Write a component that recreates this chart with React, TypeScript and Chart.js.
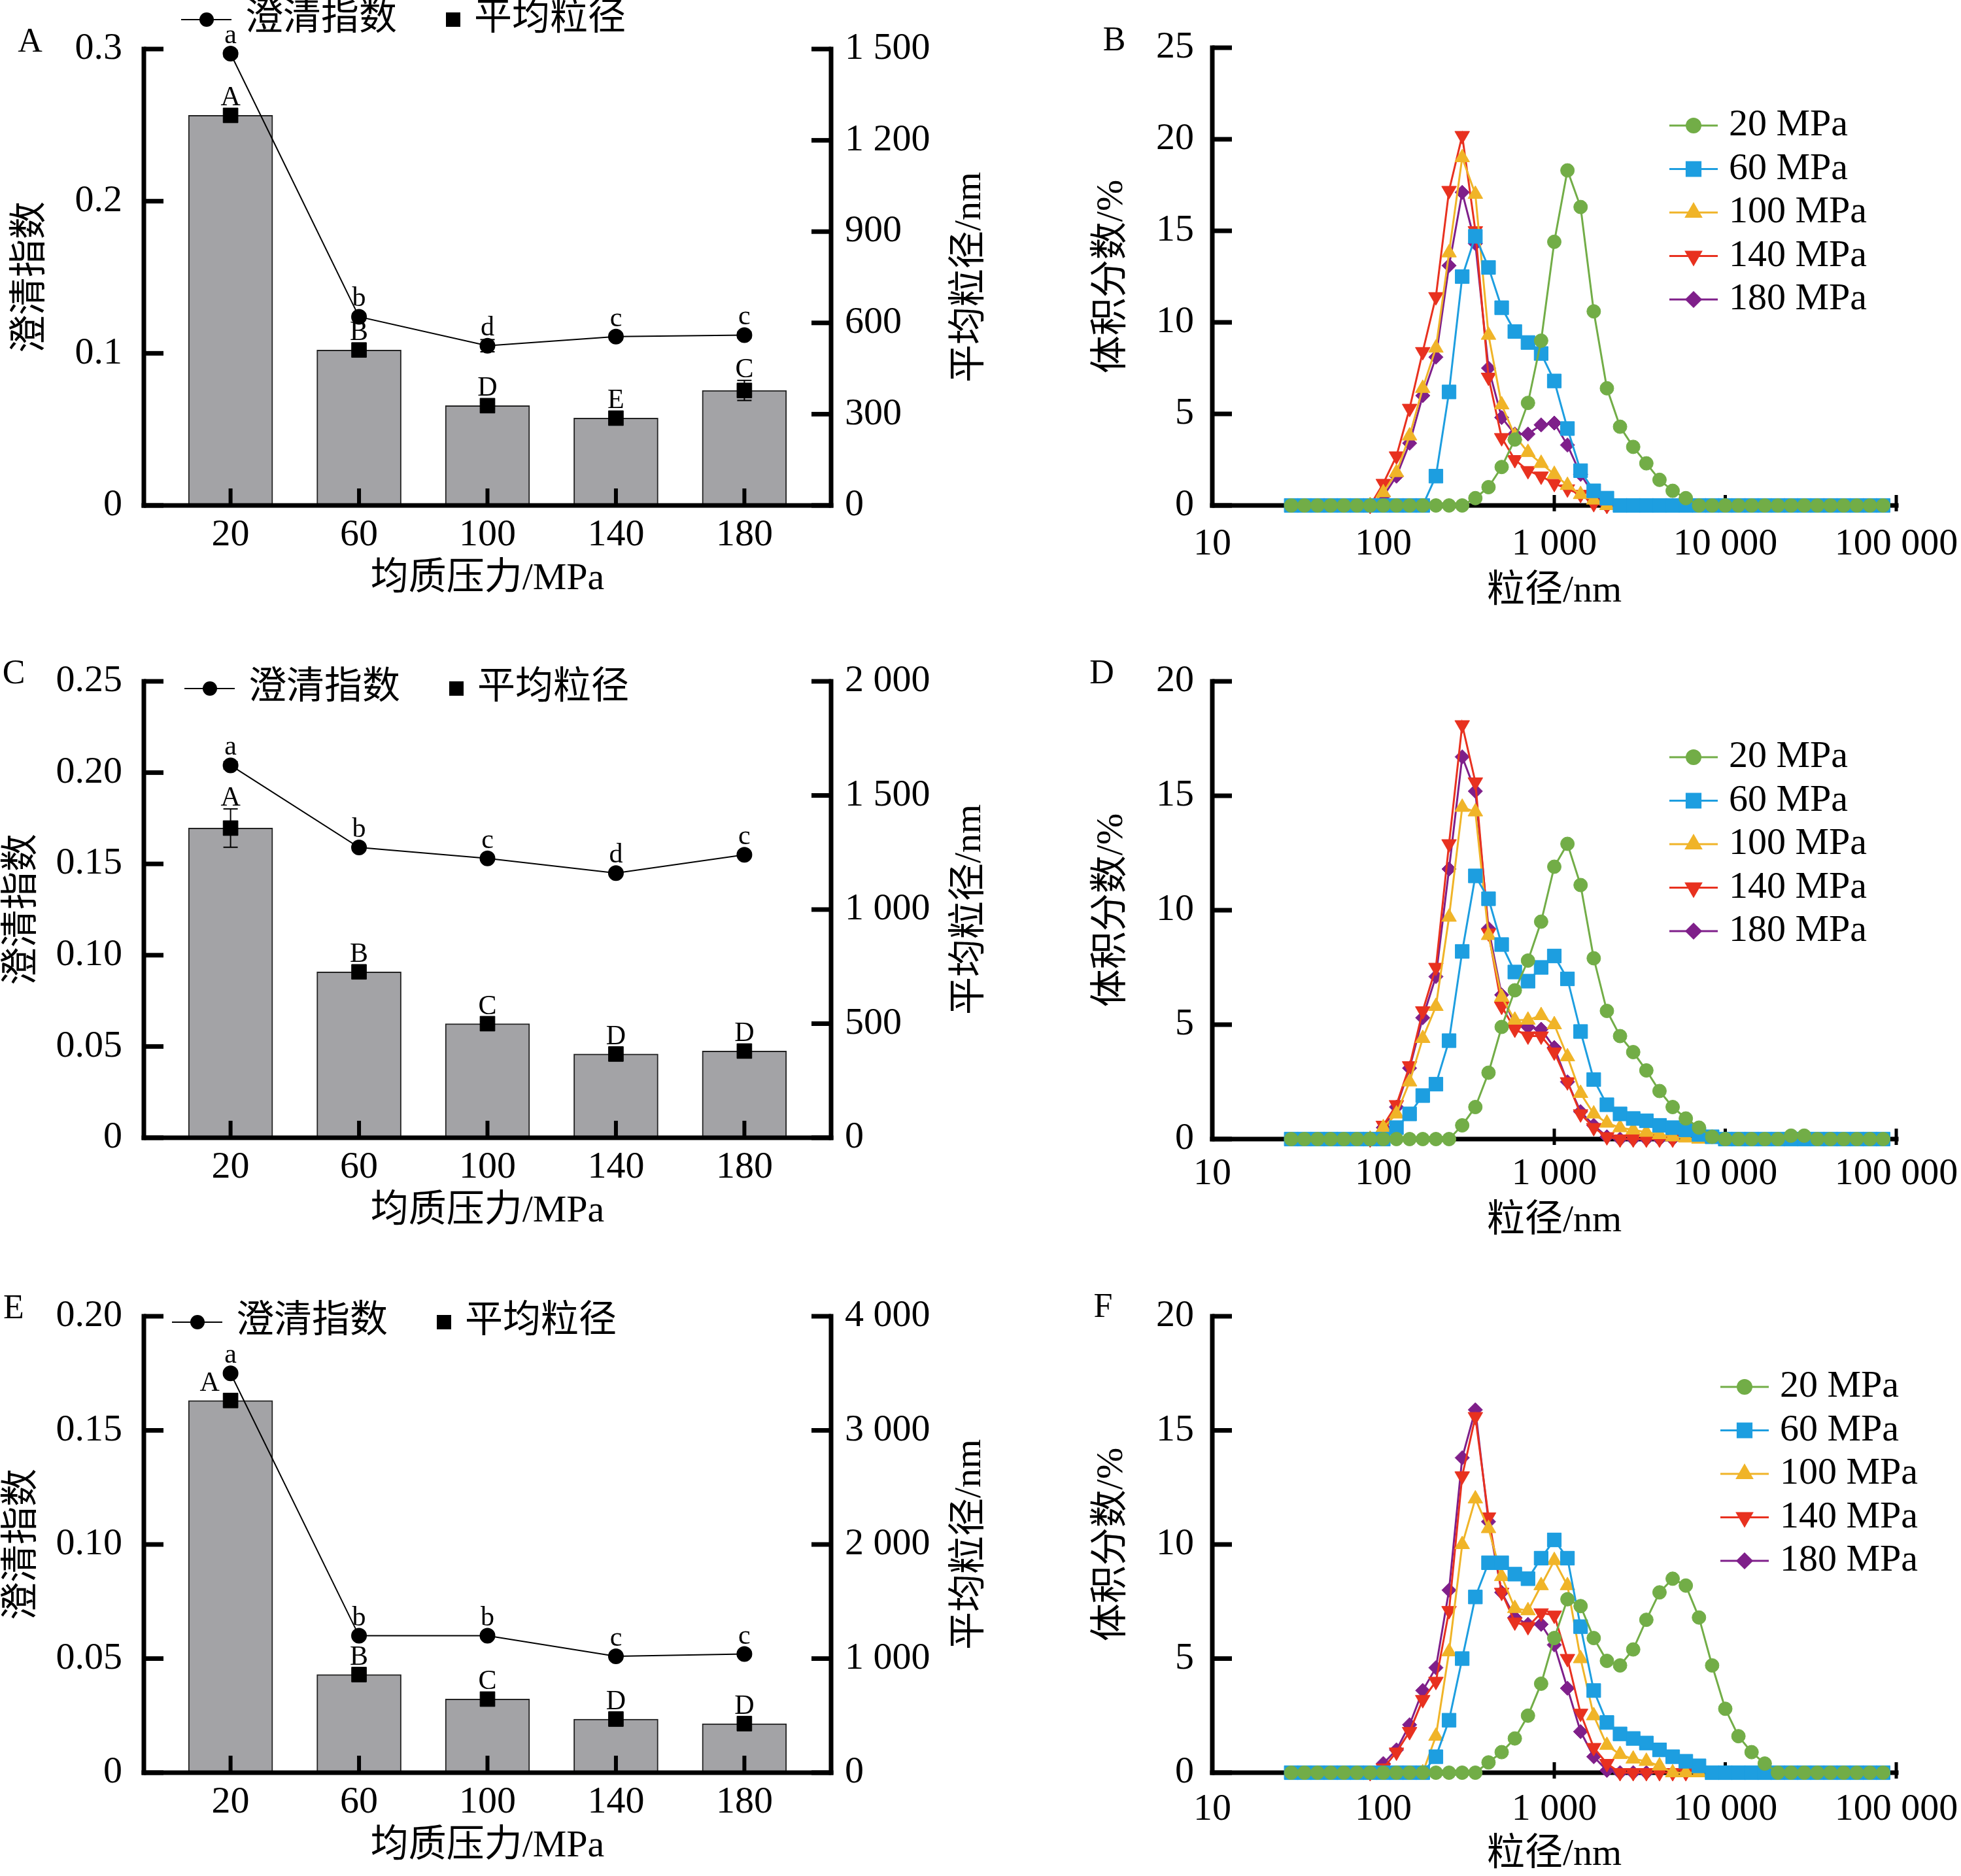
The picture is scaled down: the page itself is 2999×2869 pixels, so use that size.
import { useEffect, useRef } from 'react';
import { Chart, registerables } from 'chart.js';
import { drawPoint } from 'chart.js/helpers';

Chart.register(...registerables);

const FONT = '"Liberation Serif", "Noto Sans CJK SC", serif';

// homogenisation pressure (MPa)
const pressures = [20, 60, 100, 140, 180];
const pressureLabels = ['20', '60', '100', '140', '180'];

// panel A
const clarityA = [0.297, 0.124, 0.105, 0.111, 0.112];
const clarityErrA = [0.002, 0.002, 0.004, 0.002, 0.002];
const clarityMarksA = ['a', 'b', 'd', 'c', 'c'];
const sizeA = [1282, 511, 328, 287, 378];
const sizeErrA = [10, 10, 10, 8, 33];
const sizeMarksA = ['A', 'B', 'D', 'E', 'C'];
const leftTicksA = [0, 0.1, 0.2, 0.3];
const leftLabelsA = ['0', '0.1', '0.2', '0.3'];
const rightTicksA = [0, 300, 600, 900, 1200, 1500];
const rightLabelsA = ['0', '300', '600', '900', '1 200', '1 500'];

// panel C
const clarityC = [0.204, 0.159, 0.153, 0.145, 0.155];
const clarityErrC = [0.002, 0.001, 0.001, 0.001, 0.001];
const clarityMarksC = ['a', 'b', 'c', 'd', 'c'];
const sizeC = [1357, 727, 500, 367, 380];
const sizeErrC = [84, 10, 10, 10, 10];
const sizeMarksC = ['A', 'B', 'C', 'D', 'D'];
const leftTicksC = [0, 0.05, 0.1, 0.15, 0.2, 0.25];
const leftLabelsC = ['0', '0.05', '0.10', '0.15', '0.20', '0.25'];
const rightTicksC = [0, 500, 1000, 1500, 2000];
const rightLabelsC = ['0', '500', '1 000', '1 500', '2 000'];

// panel E
const clarityE = [0.175, 0.06, 0.06, 0.051, 0.052];
const clarityErrE = [0.001, 0.001, 0.001, 0.001, 0.001];
const clarityMarksE = ['a', 'b', 'b', 'c', 'c'];
const sizeE = [3262, 860, 645, 470, 430];
const sizeErrE = [30, 30, 30, 30, 30];
const sizeMarksE = ['A', 'B', 'C', 'D', 'D'];
const leftTicksE = [0, 0.05, 0.1, 0.15, 0.2];
const leftLabelsE = ['0', '0.05', '0.10', '0.15', '0.20'];
const rightTicksE = [0, 1000, 2000, 3000, 4000];
const rightLabelsE = ['0', '1 000', '2 000', '3 000', '4 000'];

// particle size distributions (nm, volume %)
const sizeBins = [
  28.94, 34.55, 41.25, 49.24, 58.78, 70.17, 83.77, 100, 119.4, 142.5, 170.1, 203.1,
  242.4, 289.4, 345.5, 412.5, 492.4, 587.8, 701.7, 837.7, 1000, 1194, 1425, 1701,
  2031, 2424, 2894, 3455, 4125, 4924, 5878, 7017, 8377, 10000, 11938, 14251, 17013,
  20309, 24245, 28943, 34551, 41246, 49239, 58780, 70170, 83768,
];
const sizeTicks = [10, 100, 1000, 10000, 100000];
const sizeTickLabels = ['10', '100', '1 000', '10 000', '100 000'];
const seriesLabels = ['20 MPa', '60 MPa', '100 MPa', '140 MPa', '180 MPa'];

const _ = null;
const B20 = [0, 0, 0, 0, 0, 0, 0, 0, 0, 0, 0, 0, 0, 0, 0.4, 1.0, 2.1, 3.6, 5.6, 9.0, 14.4, 18.3, 16.3, 10.6, 6.4, 4.3, 3.2, 2.3, 1.4, 0.8, 0.4, 0, 0, 0, 0, 0, 0, 0, 0, 0, 0, 0, 0, 0, 0, 0];
const B60 = [0, 0, 0, 0, 0, 0, 0, 0, 0, 0, 0, 1.6, 6.2, 12.5, 14.7, 13.0, 10.8, 9.5, 8.9, 8.3, 6.8, 4.2, 1.9, 0.8, 0.4, 0, 0, 0, 0, 0, 0, 0, 0, 0, 0, 0, 0, 0, 0, 0, 0, 0, 0, 0, 0, 0];
const B100 = [_, _, _, _, _, _, 0, 0.7, 1.8, 3.8, 6.4, 8.6, 13.8, 19.0, 17.0, 9.3, 5.5, 3.8, 2.9, 2.3, 1.7, 1.1, 0.6, 0.3, 0, _, _, _, _, _, _, _, _, _, _, _, _, _, _, _, _, _, _, _, _, _];
const B140 = [_, _, _, _, _, _, 0, 1.2, 2.7, 5.3, 8.4, 11.4, 17.2, 20.2, 15.0, 7.0, 3.7, 2.5, 1.9, 1.6, 1.2, 0.9, 0.6, 0.1, 0, _, _, _, _, _, _, _, _, _, _, _, _, _, _, _, _, _, _, _, _, _];
const B180 = [_, _, _, _, _, _, 0, 0.5, 1.6, 3.4, 6.0, 8.1, 13.1, 17.1, 14.3, 7.5, 4.8, 3.9, 3.9, 4.4, 4.5, 3.3, 1.7, 0.6, 0, _, _, _, _, _, _, _, _, _, _, _, _, _, _, _, _, _, _, _, _, _];

const D20 = [0, 0, 0, 0, 0, 0, 0, 0, 0, 0, 0, 0, 0, 0.6, 1.4, 2.9, 4.9, 6.5, 7.8, 9.5, 11.9, 12.9, 11.1, 7.9, 5.6, 4.5, 3.8, 3.0, 2.1, 1.4, 0.9, 0.5, 0.1, 0, 0, 0, 0, 0, 0.15, 0.15, 0, 0, 0, 0, 0, 0];
const D60 = [0, 0, 0, 0, 0, 0, 0, 0, 0.5, 1.1, 1.9, 2.4, 4.3, 8.2, 11.5, 10.5, 8.5, 7.3, 6.9, 7.5, 8.0, 7.0, 4.7, 2.6, 1.5, 1.1, 0.9, 0.8, 0.6, 0.5, 0.4, 0.2, 0.1, 0, 0, 0, 0, 0, 0, 0, 0, 0, 0, 0, 0, 0];
const D100 = [_, _, _, _, _, _, 0, 0.5, 1.1, 2.5, 4.4, 5.8, 9.7, 14.5, 14.3, 8.9, 6.2, 5.2, 5.2, 5.4, 5.0, 3.6, 2.0, 1.1, 0.7, 0.5, 0.4, 0.3, 0.2, 0.1, 0.05, 0, _, _, _, _, _, _, _, _, _, _, _, _, _, _];
const D140 = [_, _, _, _, _, _, 0, 0.6, 1.5, 3.2, 5.6, 7.5, 12.9, 18.1, 15.6, 9.0, 5.8, 4.8, 4.5, 4.5, 3.8, 2.5, 1.1, 0.5, 0.1, 0, 0, 0, 0, 0, _, _, _, _, _, _, _, _, _, _, _, _, _, _, _, _];
const D180 = [_, _, _, _, _, _, 0, 0.5, 1.4, 3.1, 5.3, 7.1, 11.8, 16.7, 15.2, 9.2, 6.3, 5.0, 4.9, 4.8, 4.0, 2.5, 1.2, 0.6, 0.1, 0, 0, 0, 0, 0, _, _, _, _, _, _, _, _, _, _, _, _, _, _, _, _];

const F20 = [0, 0, 0, 0, 0, 0, 0, 0, 0, 0, 0, 0, 0, 0, 0, 0.45, 0.9, 1.5, 2.5, 3.9, 5.9, 7.6, 7.3, 5.9, 4.9, 4.7, 5.4, 6.7, 7.9, 8.5, 8.2, 6.8, 4.7, 2.8, 1.6, 0.9, 0.4, 0, 0, 0, 0, 0, 0, 0, 0, 0];
const F60 = [0, 0, 0, 0, 0, 0, 0, 0, 0, 0, 0, 0.7, 2.3, 5.0, 7.7, 9.2, 9.2, 8.7, 8.5, 9.4, 10.2, 9.4, 6.4, 3.6, 2.2, 1.7, 1.5, 1.3, 1.0, 0.7, 0.5, 0.3, 0, 0, 0, 0, 0, 0, 0, 0, 0, 0, 0, 0, 0, 0];
const F100 = [_, _, _, _, _, _, _, _, _, _, 0, 1.6, 5.3, 10.0, 12.0, 10.7, 8.6, 7.2, 7.1, 8.2, 9.3, 8.2, 5.0, 2.5, 1.2, 0.8, 0.6, 0.5, 0.3, 0, 0, 0, _, _, _, _, _, _, _, _, _, _, _, _, _, _];
const F140 = [_, _, _, _, _, _, 0, 0.2, 0.9, 1.8, 3.2, 4.0, 7.1, 13.0, 15.6, 11.2, 7.9, 6.6, 6.4, 7.0, 6.9, 5.0, 2.6, 1.1, 0.4, 0, 0, 0, 0, 0, 0, _, _, _, _, _, _, _, _, _, _, _, _, _, _, _];
const F180 = [_, _, _, _, _, _, 0, 0.4, 1.0, 2.1, 3.6, 4.6, 8.0, 13.8, 15.9, 11.0, 7.9, 6.8, 6.5, 6.5, 5.6, 3.7, 1.8, 0.7, 0.1, 0, 0, 0, _, _, _, _, _, _, _, _, _, _, _, _, _, _, _, _, _, _];

const seriesStyles = [
  { color: '#72ad47', pointStyle: 'circle', radius: 10.5, rotation: 0 },
  { color: '#1d9ee0', pointStyle: 'rect', radius: 15, rotation: 0 },
  { color: '#f0b428', pointStyle: 'triangle', radius: 13, rotation: 0 },
  { color: '#e8311f', pointStyle: 'triangle', radius: 13, rotation: 180 },
  { color: '#7f1f8a', pointStyle: 'rectRot', radius: 11, rotation: 0 },
];

type Box = [number, number, number, number];

function line(ctx: CanvasRenderingContext2D, x1: number, y1: number, x2: number, y2: number) {
  ctx.beginPath();
  ctx.moveTo(x1, y1);
  ctx.lineTo(x2, y2);
  ctx.stroke();
}

function text(ctx: CanvasRenderingContext2D, s: string, x: number, y: number, size: number, align: CanvasTextAlign = 'center', rot = 0) {
  ctx.save();
  ctx.font = `${size}px ${FONT}`;
  ctx.fillStyle = '#000';
  ctx.textAlign = align;
  ctx.textBaseline = 'middle';
  ctx.translate(x, y);
  if (rot) ctx.rotate(rot);
  ctx.fillText(s, 0, 0);
  ctx.restore();
}

const tickFont = { family: 'Liberation Serif', size: 58 };

// keep the plot area exactly where the box says, whatever the edge labels need
const noEdgePadding = (s: any) => {
  s.paddingLeft = 0;
  s.paddingRight = 0;
  s.paddingTop = 0;
  s.paddingBottom = 0;
};

interface BarSpec {
  box: Box; // canvas left, top, width, height
  area: Box; // plot left, top, right, bottom
  letter: string;
  letterAt: [number, number];
  leftTitleX: number;
  legendAt: [number, number];
  firstCapShift: number;
  clarity: number[];
  clarityErr: number[];
  clarityMarks: string[];
  size: number[];
  sizeErr: number[];
  sizeMarks: string[];
  leftTicks: number[];
  leftLabels: string[];
  rightTicks: number[];
  rightLabels: string[];
}

function BarPanel({ spec }: { spec: BarSpec }) {
  const ref = useRef<HTMLCanvasElement>(null);

  useEffect(() => {
    if (!ref.current) return;
    const [bx, by, bw, bh] = spec.box;
    const [al, at, ar, ab] = spec.area;

    const decor = {
      id: 'barDecor',
      afterDatasetsDraw(chart: any) {
        const { ctx, chartArea: a, scales } = chart;
        const xs = scales.x, yl = scales.y, yr = scales.y1;
        ctx.save();
        ctx.strokeStyle = '#000';
        ctx.lineWidth = 2;
        const errBar = (x: number, y0: number, y1: number) => {
          line(ctx, x, y0, x, y1);
          line(ctx, x - 11, y0, x + 11, y0);
          line(ctx, x - 11, y1, x + 11, y1);
        };
        pressures.forEach((p, i) => {
          const x = xs.getPixelForValue(p);
          errBar(x, yr.getPixelForValue(spec.size[i] - spec.sizeErr[i]), yr.getPixelForValue(spec.size[i] + spec.sizeErr[i]));
          errBar(x, yl.getPixelForValue(spec.clarity[i] - spec.clarityErr[i]), yl.getPixelForValue(spec.clarity[i] + spec.clarityErr[i]));
        });

        ctx.lineWidth = 7;
        ctx.lineCap = 'square';
        line(ctx, a.left, a.top, a.left, a.bottom);
        line(ctx, a.right, a.top, a.right, a.bottom);
        line(ctx, a.left, a.bottom, a.right, a.bottom);
        ctx.lineCap = 'butt';
        spec.leftTicks.forEach((v) => {
          const y = yl.getPixelForValue(v);
          line(ctx, a.left, y, a.left + 30, y);
        });
        spec.rightTicks.forEach((v) => {
          const y = yr.getPixelForValue(v);
          line(ctx, a.right - 30, y, a.right, y);
        });
        ctx.lineWidth = 6;
        pressures.forEach((p) => {
          const x = xs.getPixelForValue(p);
          line(ctx, x, a.bottom - 26, x, a.bottom);
        });

        ctx.fillStyle = '#000';
        ctx.font = `42px ${FONT}`;
        ctx.textAlign = 'center';
        ctx.textBaseline = 'alphabetic';
        pressures.forEach((p, i) => {
          const x = xs.getPixelForValue(p);
          const yc = yl.getPixelForValue(spec.clarity[i]);
          const yce = yl.getPixelForValue(spec.clarity[i] + spec.clarityErr[i]);
          ctx.fillText(spec.clarityMarks[i], x, Math.min(yc - 16, yce - 6));
          const ys = yr.getPixelForValue(spec.size[i]);
          const yse = yr.getPixelForValue(spec.size[i] + spec.sizeErr[i]);
          ctx.fillText(spec.sizeMarks[i], x + (i === 0 ? spec.firstCapShift : 0), Math.min(ys - 15, yse - 5));
        });
        ctx.restore();
      },
      afterDraw(chart: any) {
        const { ctx, chartArea: a } = chart;
        const cy = (a.top + a.bottom) / 2;
        text(ctx, '澄清指数', spec.leftTitleX - bx, cy, 58, 'center', -Math.PI / 2);
        text(ctx, '平均粒径/nm', a.right + 213, cy, 58, 'center', -Math.PI / 2);
        text(ctx, '均质压力/MPa', (a.left + a.right) / 2, a.bottom + 113, 58);
        text(ctx, spec.letter, spec.letterAt[0] - bx, spec.letterAt[1] - by, 52);

        // legend
        const lx = a.left + spec.legendAt[0];
        const ly = a.top + spec.legendAt[1];
        ctx.save();
        ctx.strokeStyle = '#000';
        ctx.fillStyle = '#000';
        ctx.lineWidth = 2;
        line(ctx, lx, ly, lx + 77, ly);
        ctx.beginPath();
        ctx.arc(lx + 39, ly, 11, 0, Math.PI * 2);
        ctx.fill();
        ctx.fillRect(lx + 416 - 11, ly - 11, 22, 22);
        ctx.restore();
        text(ctx, '澄清指数', lx + 98, ly, 58, 'left');
        text(ctx, '平均粒径', lx + 448, ly, 58, 'left');
      },
    };

    const chart = new Chart(ref.current, {
      type: 'bar',
      data: {
        datasets: [
          {
            type: 'line',
            data: pressures.map((p, i) => ({ x: p, y: spec.clarity[i] })),
            yAxisID: 'y',
            borderColor: '#000',
            borderWidth: 2,
            pointRadius: 11,
            pointBackgroundColor: '#000',
            pointBorderColor: '#000',
            clip: false,
          },
          {
            type: 'line',
            data: pressures.map((p, i) => ({ x: p, y: spec.size[i] })),
            yAxisID: 'y1',
            showLine: false,
            pointStyle: 'rect',
            pointRadius: 16,
            pointBackgroundColor: '#000',
            pointBorderColor: '#000',
            clip: false,
          },
          {
            type: 'bar',
            data: pressures.map((p, i) => ({ x: p, y: spec.size[i] })),
            yAxisID: 'y1',
            backgroundColor: '#a3a3a6',
            borderColor: '#222',
            borderWidth: 2,
            barThickness: 129,
          },
        ] as any,
      },
      options: {
        animation: false,
        responsive: false,
        devicePixelRatio: 1,
        layout: { padding: { top: at - by, left: 0, right: 0, bottom: 0 } },
        plugins: { legend: { display: false }, tooltip: { enabled: false } },
        scales: {
          x: {
            type: 'linear',
            min: -7,
            max: 207,
            offset: false,
            grid: { display: false, drawTicks: false },
            border: { display: false },
            afterBuildTicks: (s: any) => { s.ticks = pressures.map((v) => ({ value: v })); },
            afterFit: (s: any) => { s.height = by + bh - ab; noEdgePadding(s); },
            ticks: {
              autoSkip: false,
              maxRotation: 0,
              padding: 11,
              color: '#000',
              font: tickFont,
              callback: (_v: any, i: number) => pressureLabels[i],
            },
          },
          y: {
            position: 'left',
            min: 0,
            max: spec.leftTicks[spec.leftTicks.length - 1],
            grid: { display: false, drawTicks: false },
            border: { display: false },
            afterBuildTicks: (s: any) => { s.ticks = spec.leftTicks.map((v) => ({ value: v })); },
            afterFit: (s: any) => { s.width = al - bx; noEdgePadding(s); },
            ticks: { padding: 33, color: '#000', font: tickFont, callback: (_v: any, i: number) => spec.leftLabels[i] },
          },
          y1: {
            position: 'right',
            min: 0,
            max: spec.rightTicks[spec.rightTicks.length - 1],
            grid: { display: false, drawTicks: false },
            border: { display: false },
            afterBuildTicks: (s: any) => { s.ticks = spec.rightTicks.map((v) => ({ value: v })); },
            afterFit: (s: any) => { s.width = bx + bw - ar; noEdgePadding(s); },
            ticks: { padding: 21, color: '#000', font: tickFont, callback: (_v: any, i: number) => spec.rightLabels[i] },
          },
        },
      } as any,
      plugins: [decor],
    });

    return () => chart.destroy();
  }, [spec]);

  const [bx, by, bw, bh] = spec.box;
  return <canvas ref={ref} width={bw} height={bh} style={{ position: 'absolute', left: bx, top: by, width: bw, height: bh }} />;
}

interface DistSpec {
  box: Box;
  area: Box;
  letter: string;
  letterAt: [number, number];
  legendAt: [number, number];
  xLabelPad: number;
  xTitleDy: number;
  yTicks: number[];
  series: (number | null)[][];
}

function DistPanel({ spec }: { spec: DistSpec }) {
  const ref = useRef<HTMLCanvasElement>(null);

  useEffect(() => {
    if (!ref.current) return;
    const [bx, by, bw, bh] = spec.box;
    const [al, at, ar, ab] = spec.area;

    const decor = {
      id: 'distDecor',
      beforeDatasetsDraw(chart: any) {
        const { ctx, chartArea: a, scales } = chart;
        ctx.save();
        ctx.strokeStyle = '#000';
        ctx.lineWidth = 7;
        ctx.lineCap = 'square';
        line(ctx, a.left, a.top, a.left, a.bottom);
        line(ctx, a.left, a.bottom, a.right, a.bottom);
        ctx.lineCap = 'butt';
        spec.yTicks.forEach((v) => {
          const y = scales.y.getPixelForValue(v);
          line(ctx, a.left, y, a.left + 30, y);
        });
        ctx.lineWidth = 5;
        sizeTicks.slice(1).forEach((v) => {
          const x = scales.x.getPixelForValue(v);
          line(ctx, x, a.bottom - 16, x, a.bottom + 9);
        });
        ctx.restore();
      },
      afterDraw(chart: any) {
        const { ctx, chartArea: a } = chart;
        text(ctx, '体积分数/%', a.left - 153, (a.top + a.bottom) / 2, 58, 'center', -Math.PI / 2);
        text(ctx, '粒径/nm', (a.left + a.right) / 2, a.bottom + spec.xTitleDy, 58);
        text(ctx, spec.letter, spec.letterAt[0] - bx, spec.letterAt[1] - by, 52);
        const lx = a.left + spec.legendAt[0];
        seriesStyles.forEach((st, i) => {
          const y = a.top + spec.legendAt[1] + i * 66.5;
          ctx.save();
          ctx.strokeStyle = st.color;
          ctx.fillStyle = st.color;
          ctx.lineWidth = 3;
          line(ctx, lx, y, lx + 74, y);
          drawPoint(ctx, { pointStyle: st.pointStyle as any, rotation: st.rotation, radius: st.radius, borderWidth: 1 }, lx + 37, y);
          ctx.restore();
          text(ctx, seriesLabels[i], lx + 91, y, 58, 'left');
        });
      },
    };

    const chart = new Chart(ref.current, {
      type: 'line',
      data: {
        datasets: spec.series.map((vals, i) => ({
          label: seriesLabels[i],
          data: vals.map((v, k) => ({ x: sizeBins[k], y: v })),
          borderColor: seriesStyles[i].color,
          backgroundColor: seriesStyles[i].color,
          pointBackgroundColor: seriesStyles[i].color,
          pointBorderColor: seriesStyles[i].color,
          borderWidth: 3,
          pointStyle: seriesStyles[i].pointStyle,
          pointRotation: seriesStyles[i].rotation,
          pointRadius: seriesStyles[i].radius,
          pointBorderWidth: 1,
          tension: 0,
          clip: false,
        })) as any,
      },
      options: {
        animation: false,
        responsive: false,
        devicePixelRatio: 1,
        layout: { padding: { top: at - by, left: 0, right: bx + bw - ar, bottom: 0 } },
        plugins: { legend: { display: false }, tooltip: { enabled: false } },
        scales: {
          x: {
            type: 'logarithmic',
            min: 10,
            max: 100000,
            grid: { display: false, drawTicks: false },
            border: { display: false },
            afterBuildTicks: (s: any) => { s.ticks = sizeTicks.map((v) => ({ value: v })); },
            afterFit: (s: any) => { s.height = by + bh - ab; noEdgePadding(s); },
            ticks: {
              autoSkip: false,
              maxRotation: 0,
              padding: spec.xLabelPad,
              color: '#000',
              font: tickFont,
              callback: (_v: any, i: number) => sizeTickLabels[i],
            },
          },
          y: {
            min: 0,
            max: spec.yTicks[spec.yTicks.length - 1],
            grid: { display: false, drawTicks: false },
            border: { display: false },
            afterBuildTicks: (s: any) => { s.ticks = spec.yTicks.map((v) => ({ value: v })); },
            afterFit: (s: any) => { s.width = al - bx; noEdgePadding(s); },
            ticks: { padding: 28, color: '#000', font: tickFont, callback: (v: any) => String(v) },
          },
        },
      } as any,
      plugins: [decor],
    });

    return () => chart.destroy();
  }, [spec]);

  const [bx, by, bw, bh] = spec.box;
  return <canvas ref={ref} width={bw} height={bh} style={{ position: 'absolute', left: bx, top: by, width: bw, height: bh }} />;
}

const panelA: BarSpec = {
  box: [0, 0, 1640, 960], area: [220, 75, 1271, 773], letter: 'A', letterAt: [46, 65], leftTitleX: 48,
  legendAt: [57, -45], firstCapShift: 0,
  clarity: clarityA, clarityErr: clarityErrA, clarityMarks: clarityMarksA,
  size: sizeA, sizeErr: sizeErrA, sizeMarks: sizeMarksA,
  leftTicks: leftTicksA, leftLabels: leftLabelsA, rightTicks: rightTicksA, rightLabels: rightLabelsA,
};
const panelC: BarSpec = {
  box: [0, 960, 1640, 969], area: [220, 1042, 1271, 1740], letter: 'C', letterAt: [21, 1031], leftTitleX: 35,
  legendAt: [62, 11], firstCapShift: 0,
  clarity: clarityC, clarityErr: clarityErrC, clarityMarks: clarityMarksC,
  size: sizeC, sizeErr: sizeErrC, sizeMarks: sizeMarksC,
  leftTicks: leftTicksC, leftLabels: leftLabelsC, rightTicks: rightTicksC, rightLabels: rightLabelsC,
};
const panelE: BarSpec = {
  box: [0, 1929, 1640, 940], area: [220, 2013, 1271, 2711], letter: 'E', letterAt: [21, 2002], leftTitleX: 35,
  legendAt: [43, 9], firstCapShift: -32,
  clarity: clarityE, clarityErr: clarityErrE, clarityMarks: clarityMarksE,
  size: sizeE, sizeErr: sizeErrE, sizeMarks: sizeMarksE,
  leftTicks: leftTicksE, leftLabels: leftLabelsE, rightTicks: rightTicksE, rightLabels: rightLabelsE,
};

const panelB: DistSpec = {
  box: [1640, 0, 1359, 960], area: [1854, 73, 2900, 773], letter: 'B', letterAt: [1704, 63],
  legendAt: [699, 119], xLabelPad: 25, xTitleDy: 132, yTicks: [0, 5, 10, 15, 20, 25],
  series: [B20, B60, B100, B140, B180],
};
const panelD: DistSpec = {
  box: [1640, 960, 1359, 969], area: [1854, 1042, 2900, 1742], letter: 'D', letterAt: [1685, 1031],
  legendAt: [699, 116], xLabelPad: 19, xTitleDy: 126, yTicks: [0, 5, 10, 15, 20],
  series: [D20, D60, D100, D140, D180],
};
const panelF: DistSpec = {
  box: [1640, 1929, 1359, 940], area: [1854, 2013, 2900, 2711], letter: 'F', letterAt: [1687, 2000],
  legendAt: [777, 108], xLabelPad: 22, xTitleDy: 126, yTicks: [0, 5, 10, 15, 20],
  series: [F20, F60, F100, F140, F180],
};

export default function App() {
  return (
    <div style={{ position: 'absolute', left: 0, top: 0, width: 2999, height: 2869, background: '#fff', overflow: 'hidden' }}>
      <BarPanel spec={panelA} />
      <DistPanel spec={panelB} />
      <BarPanel spec={panelC} />
      <DistPanel spec={panelD} />
      <BarPanel spec={panelE} />
      <DistPanel spec={panelF} />
    </div>
  );
}
